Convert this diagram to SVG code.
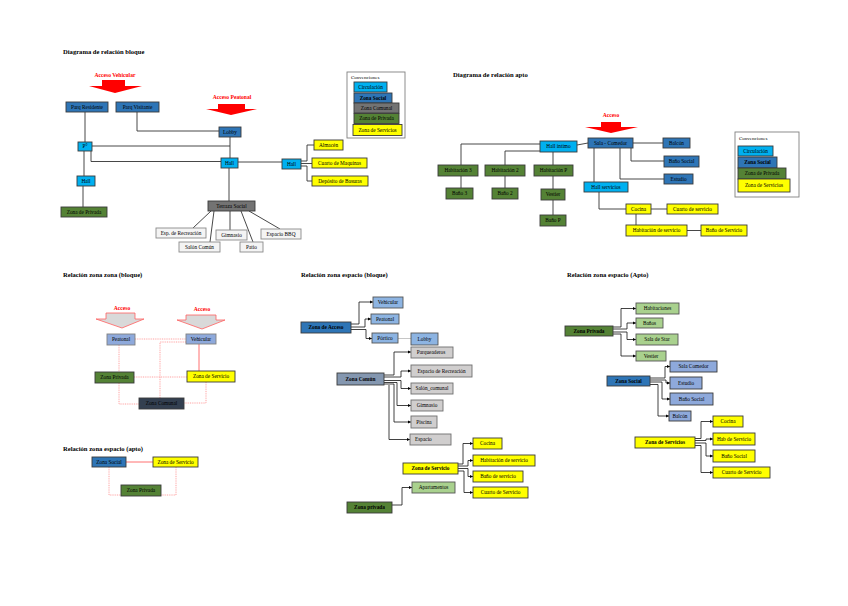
<svg xmlns="http://www.w3.org/2000/svg" width="848" height="606" viewBox="0 0 848 606">
<style>
text{font-family:"Liberation Serif","Times New Roman",serif;font-size:5.3px;fill:#000;text-anchor:middle}
.b{font-weight:bold}
.st{text-anchor:start}
.title{font-size:6.6px;font-weight:bold;text-anchor:start}
.red{fill:#FF0000;font-weight:bold;font-size:5.6px}
rect{stroke:#3a3a3a;stroke-width:0.9}
.bg{fill:#fff;stroke:none}
.cir{fill:#00B0F0}
.soc{fill:#2E75B6}
.com{fill:#737373}
.pri{fill:#548235}
.ser{fill:#FFFF00}
.lg{fill:#F4F4F4;stroke:#8a8a8a}
.lb{fill:#8DB4E2;stroke:#555}
.zc{fill:#8497B0}
.gr{fill:#D0CECE;stroke:#6f6f6f}
.lgr{fill:#A9D18E;stroke:#555}
.pz{fill:#8EA9DB;stroke:#808080}
.pb{fill:#8EA9DB}
.dk{fill:#333F50}
.conv{fill:#fff;stroke:#808080}
.ln{stroke:#333;stroke-width:0.9;fill:none}
.ar{stroke:#111;stroke-width:0.8;fill:none;marker-end:url(#ah)}
.gl{stroke:#BFBFBF;stroke-width:0.9;fill:none}
.rd{stroke:#FF8C8C;stroke-width:0.8;fill:none;stroke-dasharray:1 0.8}
.rs{stroke:#FF6060;stroke-width:0.9;fill:none}
.acc{fill:#FF0000;stroke:none}
.acc2{fill:#D9D9D9;stroke:#FF6060;stroke-width:0.8}
</style>
<defs>
<marker id="ah" markerWidth="4" markerHeight="4" refX="3.5" refY="2" orient="auto" markerUnits="userSpaceOnUse"><path d="M0,0.3 L3.5,2 L0,3.7z" fill="#000"/></marker>
</defs>
<rect class="bg" x="0" y="0" width="848" height="606"/>

<!-- titles -->
<text class="title" x="63" y="54">Diagrama de relación bloque</text>
<text class="title" x="453" y="77">Diagrama de relación apto</text>
<text class="title" x="63" y="277">Relación zona zona (bloque)</text>
<text class="title" x="63" y="451">Relación zona espacio (apto)</text>
<text class="title" x="301" y="277">Relación zona espacio (bloque)</text>
<text class="title" x="567" y="277">Relación zona espacio (Apto)</text>

<!-- access arrows -->
<g id="acceso-vehicular">
<text class="red" x="115" y="77">Acceso Vehicular</text>
<polygon class="acc" points="102,80 125,80 125,86 142,86 115,93 89,86 102,86"/>
</g>
<g id="acceso-peatonal">
<text class="red" x="232" y="99">Acceso Peatonal</text>
<polygon class="acc" points="218,104 245,104 245,109 257,109 231,115 206,109 218,109"/>
</g>
<g id="acceso-apto">
<text class="red" x="611" y="117">Acceso</text>
<polygon class="acc" points="601,122 621,122 621,127 638,127 611,133 585,127 601,127"/>
</g>
<g id="acceso-zz-1">
<text class="red" x="122" y="310">Acceso</text>
<polygon class="acc2" points="106,313 135,313 135,319 144,319 122,328 96,319 106,319"/>
</g>
<g id="acceso-zz-2">
<text class="red" x="202" y="311">Acceso</text>
<polygon class="acc2" points="186,315 216,315 216,320 225,320 202,329 177,320 186,320"/>
</g>

<!-- connectors -->
<g id="connectors">
<path class="ln" d="M85,112V142M137,112V131H219M92,146H230M230,137V158M91,151V161.5H221M84,151V176M83,186V207M238,162H282M301,161H307V145H314M301,163.5H312M301,166H307V181H312M229,168V201M211,211L193,228M214,211L210,242M230,211V230M241,211L253,242M249,211L280,229"/>
<path class="ln" d="M540,144H461V165M540,151H505V165M553,152V165M461,176V188M505,176V188M553,176V189M553,200V215M577,145L588,143M633,143H663M631,148V161H664M620,148V179H664M594,148V182M599,192V209H626M651,209H667M636,214V225M687,230.5H701"/>
<path class="rd" d="M135,339H186M186,342H160V398M119,345V372M134,377H187M119,383V404H139M206,382V403H184"/>
<path class="rs" d="M199,344V371M126,462H153"/>
<path class="rd" d="M109,467V495H121M176,467V495H161"/>
<path class="gl" d="M398,338.5H411"/>
<path class="ar" d="M351,324H359V302H373"/>
<path class="ar" d="M351,327H365V319H371"/>
<path class="ar" d="M351,329.5H366V338.5H372"/>
<path class="ar" d="M384,375H394V352H411"/>
<path class="ar" d="M384,377H401V371H411"/>
<path class="ar" d="M384,380.5H401V388.5H411"/>
<path class="ar" d="M384,382.5H397V405.5H411"/>
<path class="ar" d="M384,384H394V422H411"/>
<path class="ar" d="M389,385V439.5H410"/>
<path class="ar" d="M458,464H463V443.5H473"/>
<path class="ar" d="M458,466H468V460.5H473"/>
<path class="ar" d="M458,468.5H468V476.5H473"/>
<path class="ar" d="M458,471H464V492.5H473"/>
<path class="ar" d="M392,505H402V487.5H412"/>
<path class="ar" d="M613,327H621V308.5H636"/>
<path class="ar" d="M613,329H627V323H636"/>
<path class="ar" d="M613,332H627V339.5H636"/>
<path class="ar" d="M613,334H621V356H636"/>
<path class="ar" d="M650,378H665V366.5H670"/>
<path class="ar" d="M650,380H666V383H670"/>
<path class="ar" d="M650,382H662V399H670"/>
<path class="ar" d="M650,384.5H658V416H669"/>
<path class="ar" d="M695,438.5H701V421.5H713"/>
<path class="ar" d="M695,440.5H706V439H713"/>
<path class="ar" d="M695,443H706V456H713"/>
<path class="ar" d="M695,445.5H701V472.5H713"/>
</g>

<!-- Diagrama de relación bloque -->
<g id="parq-residente"><rect class="soc" x="66" y="102" width="42" height="10"/><text x="87" y="108.9">Parq Residente</text></g>
<g id="parq-visitante"><rect class="soc" x="116" y="102" width="43" height="10"/><text x="137.5" y="108.9">Parq Visitante</text></g>
<g id="lobby"><rect class="soc" x="219" y="127" width="22" height="10"/><text x="230" y="133.9">Lobby</text></g>
<g id="piso"><rect class="cir" x="78" y="142" width="14" height="9"/><text x="85" y="148.4">P°</text></g>
<g id="hall-1"><rect class="cir" x="221" y="158" width="17" height="10"/><text x="229.5" y="164.9">Hall</text></g>
<g id="hall-2"><rect class="cir" x="77" y="176" width="18" height="10"/><text x="86" y="182.9">Hall</text></g>
<g id="zona-privada-1"><rect class="pri" x="61" y="207" width="46" height="10"/><text x="84" y="213.9">Zona de Privada</text></g>
<g id="hall-3"><rect class="cir" x="282" y="159" width="19" height="10"/><text x="291.5" y="165.9">Hall</text></g>
<g id="almacen"><rect class="ser" x="314" y="140" width="29" height="10"/><text x="328.5" y="146.9">Almacén</text></g>
<g id="cuarto-maquinas"><rect class="ser" x="312" y="158" width="55" height="10"/><text x="339.5" y="164.9">Cuarto de Maquinas</text></g>
<g id="deposito-basuras"><rect class="ser" x="312" y="176" width="56" height="10"/><text x="340" y="182.9">Depósito de Basuras</text></g>
<g id="terraza-social"><rect class="com" x="208" y="201" width="47" height="10"/><text x="231.5" y="207.9">Terraza Social</text></g>
<g id="esp-recreacion"><rect class="lg" x="156" y="228" width="50" height="10"/><text x="181" y="234.9">Esp. de Recreación</text></g>
<g id="salon-comun"><rect class="lg" x="179" y="242" width="41" height="10"/><text x="199.5" y="248.9">Salón Común</text></g>
<g id="gimnasio"><rect class="lg" x="216" y="230" width="31" height="10"/><text x="231.5" y="236.9">Gimnasio</text></g>
<g id="patio"><rect class="lg" x="240" y="242" width="23" height="10"/><text x="251.5" y="248.9">Patio</text></g>
<g id="espacio-bbq"><rect class="lg" x="261" y="229" width="40" height="10"/><text x="281" y="235.9">Espacio BBQ</text></g>

<!-- Convenciones 1 -->
<g id="convenciones-1">
<rect class="conv" x="347" y="72" width="58" height="66"/>
<text class="st" x="351" y="78.5" style="font-size:5px">Convenciones</text>
<rect class="cir" x="354" y="82" width="33" height="10"/><text x="370.5" y="88.9">Circulación</text>
<rect class="soc" x="354" y="93" width="38" height="10"/><text class="b" x="373" y="99.9">Zona Social</text>
<rect class="com" x="354" y="103" width="45" height="10"/><text x="376.5" y="109.9">Zona Comunal</text>
<rect class="pri" x="354" y="113.5" width="45" height="10"/><text x="376.5" y="120.4">Zona de Privada</text>
<rect class="ser" x="353" y="124.5" width="49" height="11"/><text x="377.5" y="131.9">Zona de Servicios</text>
</g>

<!-- Diagrama de relación apto -->
<g id="sala-comedor"><rect class="soc" x="588" y="138" width="45" height="10"/><text x="610.5" y="144.9">Sala - Comedor</text></g>
<g id="hall-intimo"><rect class="cir" x="540" y="141" width="37" height="11"/><text x="558.5" y="148.4">Hall íntimo</text></g>
<g id="habitacion-3"><rect class="pri" x="438" y="165" width="40" height="11"/><text x="458" y="172.4">Habitación 3</text></g>
<g id="habitacion-2"><rect class="pri" x="485" y="165" width="40" height="11"/><text x="505" y="172.4">Habitación 2</text></g>
<g id="habitacion-p"><rect class="pri" x="534" y="165" width="39" height="11"/><text x="553.5" y="172.4">Habitación P</text></g>
<g id="bano-3"><rect class="pri" x="446" y="188" width="27" height="11"/><text x="459.5" y="195.4">Baño 3</text></g>
<g id="bano-2"><rect class="pri" x="492" y="188" width="26" height="11"/><text x="505" y="195.4">Baño 2</text></g>
<g id="vestier"><rect class="pri" x="541" y="189" width="24" height="11"/><text x="553" y="196.4">Vestier</text></g>
<g id="bano-p"><rect class="pri" x="540" y="215" width="26" height="11"/><text x="553" y="222.4">Baño P</text></g>
<g id="hall-servicios"><rect class="cir" x="584" y="182" width="44" height="10"/><text x="606" y="188.9">Hall servicios</text></g>
<g id="balcon"><rect class="soc" x="663" y="138" width="27" height="10"/><text x="676.5" y="144.9">Balcón</text></g>
<g id="bano-social"><rect class="soc" x="664" y="156" width="35" height="11"/><text x="681.5" y="163.4">Baño Social</text></g>
<g id="estudio"><rect class="soc" x="664" y="174" width="29" height="10"/><text x="678.5" y="180.9">Estudio</text></g>
<g id="cocina"><rect class="ser" x="626" y="204" width="25" height="10"/><text x="638.5" y="210.9">Cocina</text></g>
<g id="cuarto-servicio"><rect class="ser" x="667" y="204" width="51" height="10"/><text x="692.5" y="210.9">Cuarto de servicio</text></g>
<g id="habitacion-servicio"><rect class="ser" x="626" y="225" width="61" height="11"/><text x="656.5" y="232.4">Habitación de servicio</text></g>
<g id="bano-servicio"><rect class="ser" x="701" y="225" width="46" height="11"/><text x="724" y="232.4">Baño de Servicio</text></g>

<!-- Convenciones 2 -->
<g id="convenciones-2">
<rect class="conv" x="735" y="132" width="64" height="65"/>
<text class="st" x="739" y="140" style="font-size:5px">Convenciones</text>
<rect class="cir" x="738" y="146" width="35" height="10"/><text x="755.5" y="152.9">Circulación</text>
<rect class="soc" x="738" y="157" width="39" height="11"/><text class="b" x="757.5" y="164.4">Zona Social</text>
<rect class="pri" x="738" y="168" width="48" height="11"/><text x="762" y="175.4">Zona de Privada</text>
<rect class="ser" x="738" y="179" width="52" height="13"/><text x="764" y="187.4">Zona de Servicios</text>
</g>

<!-- Relación zona zona (bloque) -->
<g id="zz-peatonal"><rect class="pz" x="107" y="334" width="28" height="11"/><text x="121" y="341.4">Peatonal</text></g>
<g id="zz-vehicular"><rect class="pz" x="186" y="334" width="30" height="10"/><text x="201" y="340.9">Vehicular</text></g>
<g id="zz-privada"><rect class="pri" x="95" y="372" width="39" height="11"/><text x="114.5" y="379.4">Zona Privada</text></g>
<g id="zz-servicio"><rect class="ser" x="187" y="371" width="48" height="11"/><text x="211" y="378.4">Zona de Servicio</text></g>
<g id="zz-comunal"><rect class="dk" x="139" y="398" width="45" height="11"/><text x="161.5" y="405.4">Zona Comunal</text></g>

<!-- Relación zona espacio (apto) left -->
<g id="zea-social"><rect class="soc" x="92" y="457" width="34" height="10"/><text x="109" y="463.9">Zona Social</text></g>
<g id="zea-servicio"><rect class="ser" x="153" y="457" width="45" height="10"/><text x="175.5" y="463.9">Zona de Servicio</text></g>
<g id="zea-privada"><rect class="pri" x="121" y="485" width="40" height="11"/><text x="141" y="492.4">Zona Privada</text></g>

<!-- Relación zona espacio (bloque) -->
<g id="zeb-acceso"><rect class="soc" x="301" y="322" width="50" height="11"/><text class="b" x="326" y="329.4">Zona de Acceso</text></g>
<g id="zeb-vehicular"><rect class="lb" x="373" y="297" width="30" height="11"/><text x="388" y="304.4">Vehicular</text></g>
<g id="zeb-peatonal"><rect class="lb" x="371" y="314" width="28" height="10"/><text x="385" y="320.9">Peatonal</text></g>
<g id="zeb-portico"><rect class="lb" x="372" y="333" width="26" height="10"/><text x="385" y="339.9">Pórtico</text></g>
<g id="zeb-lobby"><rect class="lb" x="411" y="333" width="27" height="12"/><text x="424.5" y="340.9">Lobby</text></g>
<g id="zeb-parqueaderos"><rect class="gr" x="411" y="347" width="42" height="11"/><text x="431" y="354.4">Parqueaderos</text></g>
<g id="zeb-recreacion"><rect class="gr" x="411" y="365" width="61" height="12"/><text x="441.5" y="372.9">Espacio de Recreación</text></g>
<g id="zeb-comun"><rect class="zc" x="337" y="373" width="47" height="12"/><text class="b" x="360.5" y="380.9">Zona Común</text></g>
<g id="zeb-salon"><rect class="gr" x="411" y="383" width="42" height="11"/><text x="432" y="390.4">Salón_comunal</text></g>
<g id="zeb-gimnasio"><rect class="gr" x="411" y="400" width="32" height="11"/><text x="427" y="407.4">Gimnasio</text></g>
<g id="zeb-piscina"><rect class="gr" x="411" y="416" width="26" height="12"/><text x="424" y="423.9">Piscina</text></g>
<g id="zeb-espacio"><rect class="gr" x="410" y="434" width="41" height="11"/><text class="st" x="415" y="441.4">Espacio</text></g>
<g id="zeb-servicio"><rect class="ser" x="403" y="463" width="55" height="11"/><text class="b" x="430.5" y="470.4">Zona de Servicio</text></g>
<g id="zeb-cocina"><rect class="ser" x="473" y="438" width="29" height="11"/><text x="487.5" y="445.4">Cocina</text></g>
<g id="zeb-habservicio"><rect class="ser" x="473" y="455" width="62" height="11"/><text x="504" y="462.4">Habitación de servicio</text></g>
<g id="zeb-banoservicio"><rect class="ser" x="473" y="471" width="50" height="11"/><text x="498" y="478.4">Baño de servicio</text></g>
<g id="zeb-cuartoservicio"><rect class="ser" x="473" y="487" width="55" height="11"/><text x="500.5" y="494.4">Cuarto de Servicio</text></g>
<g id="zeb-apartamentos"><rect class="lgr" x="412" y="482" width="43" height="11"/><text x="433.5" y="489.4">Apartamentos</text></g>
<g id="zeb-privada"><rect class="pri" x="347" y="502" width="45" height="11"/><text class="b" x="369.5" y="509.4">Zona privada</text></g>

<!-- Relación zona espacio (Apto) right -->
<g id="zer-habitaciones"><rect class="lgr" x="636" y="303" width="43" height="11"/><text x="657.5" y="310.4">Habitaciones</text></g>
<g id="zer-banos"><rect class="lgr" x="636" y="318" width="27" height="10"/><text x="649.5" y="324.9">Baños</text></g>
<g id="zer-salastar"><rect class="lgr" x="636" y="334" width="42" height="11"/><text x="657" y="341.4">Sala de Star</text></g>
<g id="zer-vestier"><rect class="lgr" x="636" y="351" width="30" height="10"/><text x="651" y="357.9">Vestier</text></g>
<g id="zer-privada"><rect class="pri" x="565" y="326" width="48" height="10"/><text class="b" x="589" y="332.9">Zona Privada</text></g>
<g id="zer-social"><rect class="soc" x="607" y="376" width="43" height="10"/><text class="b" x="628.5" y="382.9">Zona Social</text></g>
<g id="zer-salacomedor"><rect class="pb" x="670" y="361" width="47" height="11"/><text x="693.5" y="368.4">Sala Comedor</text></g>
<g id="zer-estudio"><rect class="pb" x="670" y="377" width="32" height="12"/><text x="686" y="384.9">Estudio</text></g>
<g id="zer-banosocial"><rect class="pb" x="670" y="393" width="43" height="12"/><text x="691.5" y="400.9">Baño Social</text></g>
<g id="zer-balcon"><rect class="pb" x="669" y="411" width="22" height="10"/><text x="680" y="417.9">Balcón</text></g>
<g id="zer-servicios"><rect class="ser" x="635" y="437" width="60" height="11"/><text class="b" x="665" y="444.4">Zona de Servicios</text></g>
<g id="zer-cocina"><rect class="ser" x="713" y="416" width="30" height="11"/><text x="728" y="423.4">Cocina</text></g>
<g id="zer-habservicio"><rect class="ser" x="713" y="433" width="42" height="12"/><text x="734" y="440.9">Hab de Servicio</text></g>
<g id="zer-banosocial2"><rect class="ser" x="713" y="450" width="42" height="12"/><text x="734" y="457.9">Baño Social</text></g>
<g id="zer-cuartoservicio"><rect class="ser" x="713" y="467" width="57" height="11"/><text x="741.5" y="474.4">Cuarto de Servicio</text></g>
</svg>
